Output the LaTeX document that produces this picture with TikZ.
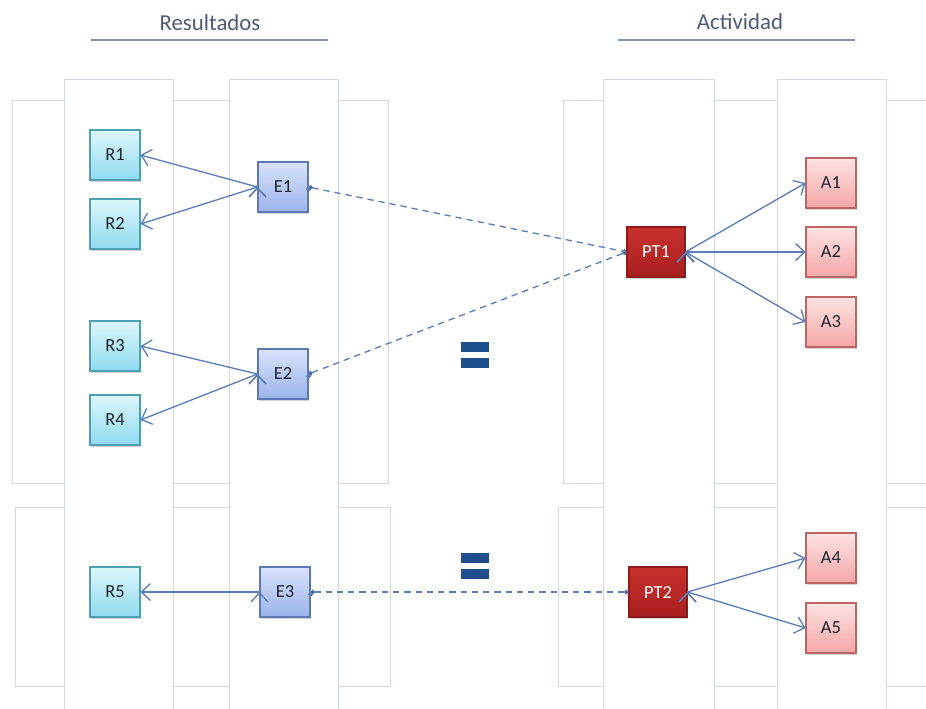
\documentclass[tikz,border=0pt]{standalone}
\usepackage{fontspec}
\setmainfont{Carlito}
\usepackage{tikz}
\usetikzlibrary{arrows.meta,shadows}

\definecolor{panel}{HTML}{D4D8E1}
\definecolor{title}{HTML}{4B5B78}
\definecolor{rule}{HTML}{8392AA}
\definecolor{link}{HTML}{5A7DB8}
\definecolor{eqblue}{HTML}{1F4E8C}
\definecolor{resline}{HTML}{4E9FB3}
\definecolor{restop}{HTML}{DDF7FC}
\definecolor{resbot}{HTML}{8FDAEE}
\definecolor{effline}{HTML}{5D79B5}
\definecolor{efftop}{HTML}{D9E3FB}
\definecolor{effbot}{HTML}{9BB3EA}
\definecolor{ptline}{HTML}{8E1B1B}
\definecolor{pttop}{HTML}{C8312D}
\definecolor{ptbot}{HTML}{A81F1F}
\definecolor{actline}{HTML}{BD6464}
\definecolor{acttop}{HTML}{FDE3E3}
\definecolor{actbot}{HTML}{F4A6A6}
\definecolor{boxtext}{HTML}{1E2430}

\tikzset{
  box/.style={shape=rectangle, draw, line width=0.6pt, minimum width=1cm, minimum height=1cm,
    inner sep=0pt, font=\fontsize{10.5}{12}\selectfont, text=boxtext,
    drop shadow={shadow xshift=0.7pt, shadow yshift=-1.1pt, opacity=0.35}},
  resbox/.style={box, draw=resline, top color=restop, bottom color=resbot},
  effbox/.style={box, draw=effline, top color=efftop, bottom color=effbot},
  ptbox/.style={box, minimum width=1.16cm, draw=ptline, top color=pttop, bottom color=ptbot, text=white},
  actbox/.style={box, draw=actline, top color=acttop, bottom color=actbot},
  head/.style={text=title, font=\fontsize{13}{15}\selectfont},
  arr/.style={draw=link, line width=0.75pt, -{Straight Barb[length=1.8mm, width=3.4mm]}},
  link/.style={draw=link, line width=0.75pt, dash pattern=on 3.6pt off 2.8pt,
    {Circle[length=2.6pt]}-{Circle[length=2.6pt]}}
}

\begin{document}
\begin{tikzpicture}[x=0.02cm,y=-0.02cm]
	\clip (0,0) rectangle (926,708);
	
	% fondo
	\draw[panel] (12,100) rectangle (388,483);
	\draw[panel] (15,507) rectangle (390,686);
	\draw[panel] (563,100) rectangle (940,483);
	\draw[panel] (558,507) rectangle (940,686);
	\foreach \xa/\xb in {64/173, 229/338, 603/714, 777/886}
		\draw[panel, fill=white] (\xa,79) rectangle (\xb,730);
	
	% titulos
	\node[head] (tres) at (210,23) {Resultados};
	\node[head] (tact) at (740,22) {Actividad};
	\draw[rule, line width=1.5pt] (91,40) -- (328,40);
	\draw[rule, line width=1.5pt] (618,40) -- (855,40);
	
	% resultados
	\node[resbox] (R1) at (115,155) {R1};
	\node[resbox] (R2) at (115,224) {R2};
	\node[resbox] (R3) at (115,346) {R3};
	\node[resbox] (R4) at (115,420) {R4};
	\node[resbox] (R5) at (115,592) {R5};
	
	\node[effbox] (E1) at (283,187) {E1};
	\node[effbox] (E2) at (283,374) {E2};
	\node[effbox] (E3) at (285,592) {E3};
	
	% actividad
	\node[ptbox] (PT1) at (656,252) {PT1};
	\node[ptbox] (PT2) at (658,592) {PT2};
	
	\node[actbox] (A1) at (831,183) {A1};
	\node[actbox] (A2) at (831,252) {A2};
	\node[actbox] (A3) at (831,322) {A3};
	\node[actbox] (A4) at (831,558) {A4};
	\node[actbox] (A5) at (831,628) {A5};
	
	% iguales
	\foreach \ya in {342, 358, 553, 569}
		\fill[eqblue] (461,\ya) rectangle (489,\ya+10);
	
	\path[arr] (E1.west) edge (R1.east);
	\path[arr] (E1.west) edge (R2.east);
	\path[arr] (E2.west) edge (R3.east);
	\path[arr] (E2.west) edge (R4.east);
	\path[arr] (E3.west) edge (R5.east);
	
	\path[link] (E1.east) edge (PT1.west);
	\path[link] (E2.east) edge (PT1.west);
	\path[link] (E3.east) edge (PT2.west);
	
	\path[arr] (PT1.east) edge (A1.west);
	\path[arr] (PT1.east) edge (A2.west);
	\path[arr] (PT1.east) edge (A3.west);
	\path[arr] (PT2.east) edge (A4.west);
	\path[arr] (PT2.east) edge (A5.west);

\end{tikzpicture}
\end{document}
